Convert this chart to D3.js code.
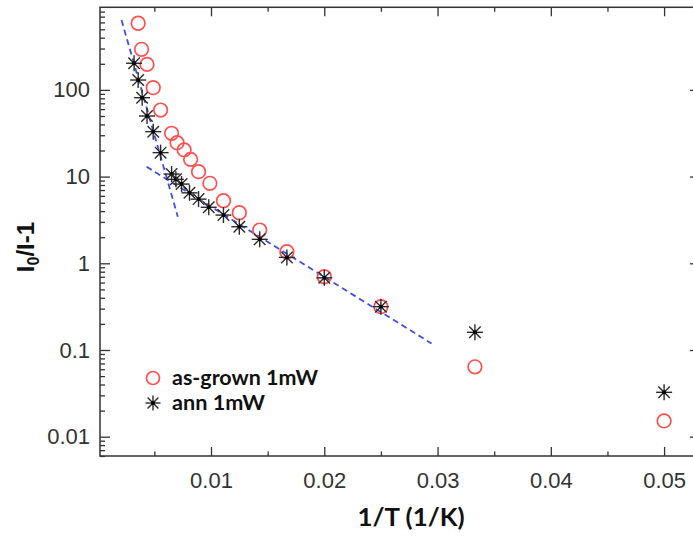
<!DOCTYPE html>
<html>
<head>
<meta charset="utf-8">
<script src="https://cdn.jsdelivr.net/npm/d3@7"></script>
<style>
  html, body { margin: 0; padding: 0; background: #fff; }
  svg { display: block; }
</style>
</head>
<body>
<svg id="chart" width="693" height="538"></svg>
<script>
// ---- data ----
const asGrownX = [0.00357, 0.00387, 0.00435, 0.0049, 0.00555, 0.00652, 0.0070, 0.00763, 0.0082, 0.0089, 0.0099, 0.0111, 0.0125, 0.0143, 0.0167, 0.02, 0.025, 0.0333, 0.05];
const asGrownY = [587, 294, 197, 106, 58.6, 31.6, 24.6, 20.3, 15.8, 11.4, 8.37, 5.27, 3.83, 2.42, 1.36, 0.70, 0.316, 0.064, 0.0152];
const annX = [0.00321, 0.00357, 0.00392, 0.00435, 0.0049, 0.00555, 0.00652, 0.0069, 0.0074, 0.0081, 0.0089, 0.0098, 0.0111, 0.0125, 0.0143, 0.0167, 0.02, 0.025, 0.0333, 0.05];
const annY = [203, 130, 81.3, 50, 33, 18.9, 10.7, 9.3, 8.2, 6.5, 5.5, 4.43, 3.6, 2.64, 1.89, 1.17, 0.68, 0.316, 0.16, 0.0325];
const fit1X = [0.0021, 0.00707];
const fit1Y = [640, 3.45];
const fit2X = [0.00431, 0.02947];
const fit2Y = [13.0, 0.119];
const xMajorTicks = [0.01, 0.02, 0.03, 0.04, 0.05];
const xMinorTicks = [0.005, 0.015, 0.025, 0.035, 0.045];
const yMajorTicks = [0.01, 0.1, 1, 10, 100];
const yTickLabels = ["0.01", "0.1", "1", "10", "100"];
const seriesNames = ["as-grown 1mW", "ann 1mW"];

// ---- layout ----
const L = 100, R = 700, T = 7.3, B = 456;
const svg = d3.select("#chart");

const x = d3.scaleLinear().domain([0.0002, 0.05317]).range([L, R]);
const y = d3.scaleLog().domain([0.00599, 897]).range([B, T]);

const yMinor = [];
[0.001, 0.01, 0.1, 1, 10, 100].forEach(d => { for (let k = 2; k <= 9; k++) { const v = d * k; if (v > y.domain()[0] && v < y.domain()[1]) yMinor.push(v); } });

const axisColor = "#333";

// frame
svg.append("rect").attr("x", L).attr("y", T).attr("width", R - L).attr("height", B - T)
  .attr("fill", "none").attr("stroke", axisColor).attr("stroke-width", 1.5);

function styleAxis(g) {
  g.select(".domain").remove();
  g.selectAll(".tick line").attr("stroke", axisColor).attr("stroke-width", 1.3);
}

// bottom axis
svg.append("g").attr("transform", `translate(0,${B})`)
  .call(d3.axisBottom(x).tickValues(xMajorTicks).tickSize(-9).tickPadding(16).tickFormat(d3.format(".2f")))
  .call(styleAxis)
  .call(g => g.selectAll("text").attr("font-family", "Liberation Sans, Arial, sans-serif").attr("font-size", 22).attr("fill", "#333"));
svg.append("g").attr("transform", `translate(0,${B})`)
  .call(d3.axisBottom(x).tickValues(xMinorTicks).tickSize(-4.5).tickFormat(""))
  .call(styleAxis);
// top axis
svg.append("g").attr("transform", `translate(0,${T})`)
  .call(d3.axisTop(x).tickValues(xMajorTicks).tickSize(-9).tickFormat(""))
  .call(styleAxis);
svg.append("g").attr("transform", `translate(0,${T})`)
  .call(d3.axisTop(x).tickValues(xMinorTicks).tickSize(-4.5).tickFormat(""))
  .call(styleAxis);

// left axis
svg.append("g").attr("transform", `translate(${L},0)`)
  .call(d3.axisLeft(y).tickValues(yMajorTicks).tickSize(-10).tickPadding(10)
    .tickFormat((d, i) => yTickLabels[i]))
  .call(styleAxis)
  .call(g => g.selectAll("text").attr("font-family", "Liberation Sans, Arial, sans-serif").attr("font-size", 22).attr("fill", "#333"));
svg.append("g").attr("transform", `translate(${L},0)`)
  .call(d3.axisLeft(y).tickValues(yMinor).tickSize(-5).tickFormat(""))
  .call(styleAxis);
// right axis
svg.append("g").attr("transform", `translate(${R},0)`)
  .call(d3.axisRight(y).tickValues(yMajorTicks).tickSize(-10).tickFormat(""))
  .call(styleAxis);
svg.append("g").attr("transform", `translate(${R},0)`)
  .call(d3.axisRight(y).tickValues(yMinor).tickSize(-5).tickFormat(""))
  .call(styleAxis);

// fit lines
const line = d3.line().x(d => x(d[0])).y(d => y(d[1]));
[[fit1X, fit1Y], [fit2X, fit2Y]].forEach(([fx, fy]) => {
  svg.append("path").datum(fx.map((v, i) => [v, fy[i]]))
    .attr("d", line).attr("fill", "none")
    .attr("stroke", "#3f4fe6").attr("stroke-width", 1.8).attr("stroke-dasharray", "6,4");
});

// asterisk marker
function star(g, cx, cy, s) {
  const arms = [[s, 0], [0, s], [s * 0.72, s * 0.72], [s * 0.72, -s * 0.72]];
  arms.forEach(([dx, dy]) => {
    g.append("line").attr("x1", cx - dx).attr("y1", cy - dy).attr("x2", cx + dx).attr("y2", cy + dy)
      .attr("stroke", "#2a2a2a").attr("stroke-width", 1.4);
  });
  g.append("circle").attr("cx", cx).attr("cy", cy).attr("r", 2).attr("fill", "#000");
}

// as-grown circles
svg.append("g").selectAll("circle").data(asGrownX.map((v, i) => [v, asGrownY[i]])).join("circle")
  .attr("cx", d => x(d[0])).attr("cy", d => y(d[1])).attr("r", 6.8)
  .attr("fill", "none").attr("stroke", "#ff5050").attr("stroke-width", 1.7);

// ann stars
const sg = svg.append("g");
annX.forEach((v, i) => star(sg, x(v), y(annY[i]), 8));

// legend
const lg = svg.append("g");
lg.append("circle").attr("cx", 153).attr("cy", 378).attr("r", 6.5)
  .attr("fill", "none").attr("stroke", "#ff5050").attr("stroke-width", 1.7);
star(lg, 153, 403, 7.5);
lg.append("text").attr("x", 172).attr("y", 385).text(seriesNames[0])
  .attr("font-family", "Lato, sans-serif").attr("font-weight", "bold").attr("font-size", 20)
  .attr("textLength", 146).attr("lengthAdjust", "spacingAndGlyphs").attr("fill", "#111");
lg.append("text").attr("x", 172).attr("y", 410).text(seriesNames[1])
  .attr("font-family", "Lato, sans-serif").attr("font-weight", "bold").attr("font-size", 20)
  .attr("textLength", 93).attr("lengthAdjust", "spacingAndGlyphs").attr("fill", "#111");

// axis titles
svg.append("text").attr("x", 411).attr("y", 526).attr("text-anchor", "middle")
  .attr("font-family", "Lato, sans-serif").attr("font-weight", "bold").attr("font-size", 24)
  .attr("textLength", 107).attr("lengthAdjust", "spacingAndGlyphs").attr("fill", "#111")
  .text("1/T (1/K)");

const yt = svg.append("text").attr("transform", "translate(34,247) rotate(-90)").attr("text-anchor", "middle")
  .attr("font-family", "Liberation Sans, Arial, sans-serif").attr("font-weight", "bold").attr("font-size", 24).attr("fill", "#111");
yt.append("tspan").text("I");
yt.append("tspan").attr("font-size", 16).attr("dy", 5).text("0");
yt.append("tspan").attr("dy", -5).text("/I-1");
</script>
</body>
</html>
